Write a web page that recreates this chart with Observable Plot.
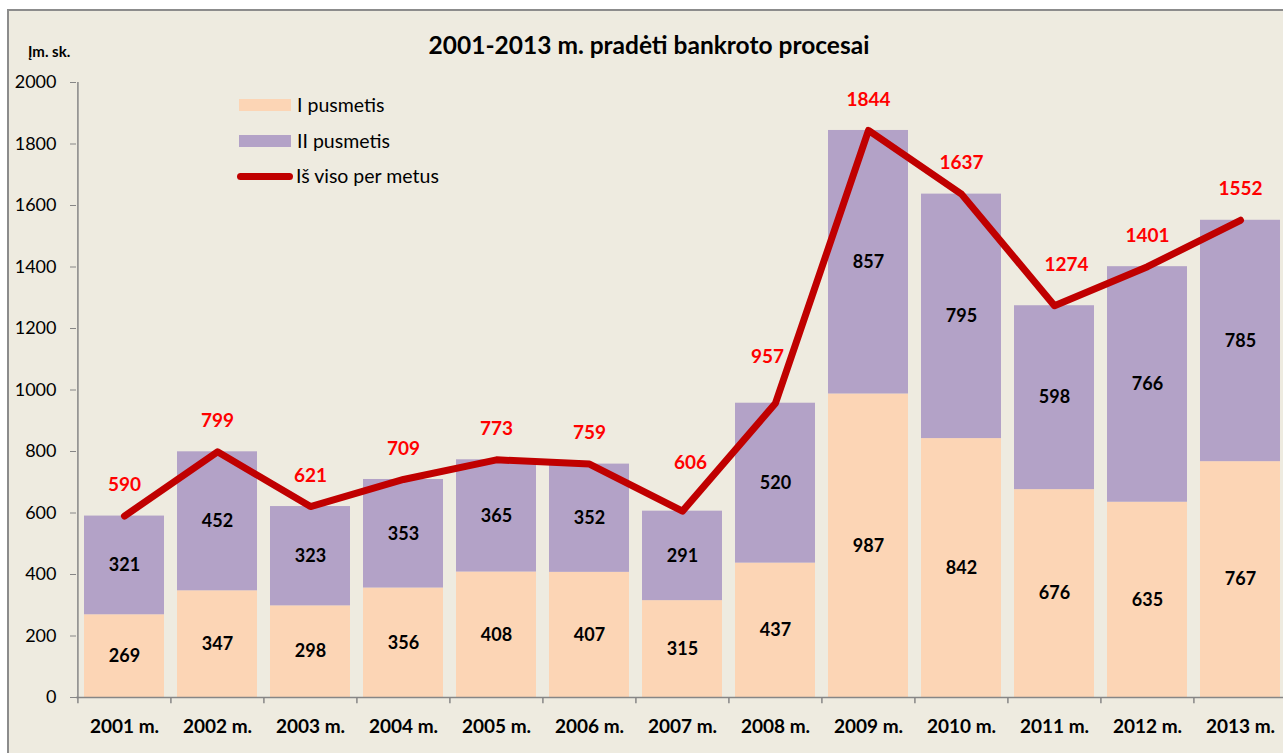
<!DOCTYPE html>
<html>
<head>
<meta charset="utf-8">
<script src="https://cdn.jsdelivr.net/npm/d3@7"></script>
<script src="https://cdn.jsdelivr.net/npm/@observablehq/plot@0.6"></script>
<style>
  html, body { margin: 0; padding: 0; background: #ffffff; overflow: hidden; width: 1283px; height: 753px; }
  #frame { position: absolute; left: 7px; top: 9px; width: 1300px; height: 760px; border: 2px solid #8c8c8c; background: #EEEBE0; font-family: Lato, "Open Sans", sans-serif; }
  #chart { position: absolute; left: 0; top: 0; }
  .title { position: absolute; left: 0; width: 1280px; text-align: center; top: 19px; font-weight: bold; font-size: 24.5px; color: #000; }
  .unit { position: absolute; left: 19px; top: 31px; font-weight: bold; font-size: 15px; color: #000; }
  .leg { position: absolute; font-size: 19.5px; color: #000; line-height: 22px; }
  .sw { position: absolute; width: 52px; height: 12px; }
  .ln { position: absolute; width: 56px; height: 7px; border-radius: 4px; background: #C00000; }
</style>
</head>
<body>
<div id="frame">
  <div id="chart"></div>
  <div class="title">2001-2013 m. pradėti bankroto procesai</div>
  <div class="unit">Įm. sk.</div>
  <div class="sw" style="left:230px; top:88px; background:#FCD5B5"></div>
  <div class="leg" style="left:288px; top:83px;">I pusmetis</div>
  <div class="sw" style="left:230px; top:124px; background:#B3A2C7"></div>
  <div class="leg" style="left:288px; top:119px;">II pusmetis</div>
  <div class="ln" style="left:228px; top:162px;"></div>
  <div class="leg" style="left:287px; top:154px;">Iš viso per metus</div>
</div>
<script>
const years = ["2001 m.","2002 m.","2003 m.","2004 m.","2005 m.","2006 m.","2007 m.","2008 m.","2009 m.","2010 m.","2011 m.","2012 m.","2013 m."];
const firstHalf = [269,347,298,356,408,407,315,437,987,842,676,635,767];
const secondHalf = [321,452,323,353,365,352,291,520,857,795,598,766,785];
const totals = [590,799,621,709,773,759,606,957,1844,1637,1274,1401,1552];
const yTicks = [0,200,400,600,800,1000,1200,1400,1600,1800,2000];

const rows = years.map((y, i) => ({year: y, a: firstHalf[i], b: secondHalf[i], t: totals[i]}));
const segs = [];
rows.forEach(r => {
  segs.push({year: r.year, part: "I pusmetis", y1: 0, y2: r.a, v: r.a});
  segs.push({year: r.year, part: "II pusmetis", y1: r.a, y2: r.a + r.b, v: r.b});
});

const redLabel = (filter, dx, dy) => Plot.text(rows, {filter, x: "year", y: "t", text: d => String(d.t), dx, dy, fontWeight: "bold", fontSize: 19, fill: "#FF0000"});

const chart = Plot.plot({
  width: 1290,
  height: 742,
  marginLeft: 67,
  marginTop: 71,
  marginBottom: 56,
  marginRight: 11,
  style: {background: "transparent", fontFamily: "Lato, 'Open Sans', sans-serif", overflow: "visible"},
  x: {domain: years, paddingInner: 0.14, paddingOuter: 0.07, label: null},
  y: {domain: [0, 2000], label: null},
  color: {domain: ["I pusmetis", "II pusmetis"], range: ["#FCD5B5", "#B3A2C7"]},
  marks: [
    Plot.barY(segs, {x: "year", y1: "y1", y2: "y2", fill: "part"}),
    Plot.text(segs, {x: "year", y: d => (d.y1 + d.y2) / 2, text: d => String(d.v), fontWeight: "bold", fontSize: 18, fill: "#000"}),
    Plot.ruleY([0], {stroke: "#868686", strokeWidth: 1.5}),
    Plot.ruleX([0], {x: () => years[0], dx: -46.6, y1: 0, y2: 2000, stroke: "#868686", strokeWidth: 1.5}),
    Plot.ruleX(years, {x: d => d, dx: -46.6, y1: 0, y2: -20, stroke: "#868686", strokeWidth: 1.5}),
    Plot.axisY({ticks: yTicks, tickSize: 6, tickPadding: 14, fontSize: 18, stroke: "#868686", fill: "#000", tickFormat: d => String(d)}),
    Plot.axisX({tickSize: 0, tickPadding: 22, fontSize: 19, fontWeight: "bold", fill: "#000"}),
    Plot.line(rows, {x: "year", y: "t", stroke: "#C00000", strokeWidth: 7, strokeLinecap: "round", strokeLinejoin: "round"}),
    redLabel(d => !["2007 m.", "2008 m.", "2011 m."].includes(d.year), 0, -31),
    redLabel(d => d.year === "2007 m.", 8, -48),
    redLabel(d => d.year === "2008 m.", -8, -46),
    redLabel(d => d.year === "2011 m.", 12, -41)
  ]
});
document.getElementById("chart").appendChild(chart);
</script>
</body>
</html>
